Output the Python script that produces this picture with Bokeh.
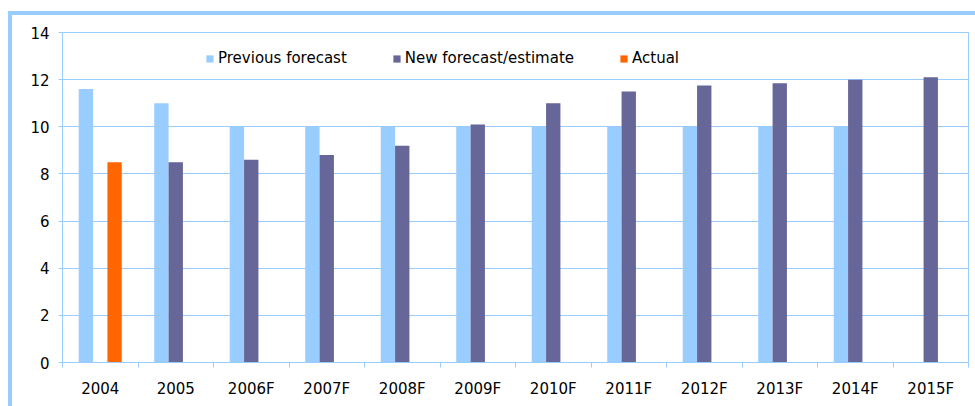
from bokeh.plotting import figure
from bokeh.models import (ColumnDataSource, Range1d, FixedTicker, Legend, LegendItem,
                          InlineStyleSheet)
from bokeh.transform import dodge
from bokeh.embed import file_html
from bokeh.resources import INLINE

categories = ["2004", "2005", "2006F", "2007F", "2008F", "2009F", "2010F",
              "2011F", "2012F", "2013F", "2014F", "2015F"]
previous_forecast = [11.6, 11.0, 10.0, 10.0, 10.0, 10.0, 10.0, 10.0, 10.0, 10.0, 10.0, None]
new_forecast = [None, 8.5, 8.6, 8.8, 9.2, 10.1, 11.0, 11.5, 11.75, 11.85, 12.0, 12.1]
actual = [8.5, None, None, None, None, None, None, None, None, None, None, None]
y_ticks = [0, 2, 4, 6, 8, 10, 12, 14]

NAN = float("nan")
def clean(v):
    return [NAN if x is None else x for x in v]

xpos = [i + 0.5 for i in range(len(categories))]
src = ColumnDataSource(dict(x=xpos, cat=categories, prev=clean(previous_forecast),
                            new=clean(new_forecast), act=clean(actual)))

BLUE = "#99CCFF"
FONT = "DejaVu Sans"
FS = "15px"

p = figure(width=975, height=406, output_backend="svg", toolbar_location=None,
           x_range=Range1d(0, len(categories)), y_range=Range1d(0, 14),
           min_border_left=62, min_border_right=7, min_border_top=32, min_border_bottom=44)
p.background_fill_color = "white"
p.border_fill_color = "white"
p.outline_line_color = BLUE
p.outline_line_width = 1

w = 0.19
r1 = p.vbar(x=dodge("x", -w, range=p.x_range), top="prev", width=w, source=src,
            fill_color=BLUE, line_color=None)
r2 = p.vbar(x=dodge("x", 0, range=p.x_range), top="new", width=w, source=src,
            fill_color="#666699", line_color=None)
r3 = p.vbar(x=dodge("x", w, range=p.x_range), top="act", width=w, source=src,
            fill_color="#FF6600", line_color=None)

# axes
xa = p.xaxis[0]
xa.ticker = FixedTicker(ticks=xpos, minor_ticks=list(range(len(categories) + 1)))
xa.major_label_overrides = {x: c for x, c in zip(xpos, categories)}
xa.major_tick_line_color = None
xa.major_tick_out = 0
xa.minor_tick_out = 5
xa.minor_tick_in = 0
xa.minor_tick_line_color = BLUE
xa.axis_line_color = BLUE
xa.major_label_standoff = 12
xa.major_label_text_font = FONT
xa.major_label_text_font_size = FS
xa.major_label_text_color = "black"

ya = p.yaxis[0]
ya.ticker = FixedTicker(ticks=y_ticks)
ya.major_tick_out = 4
ya.major_tick_in = 0
ya.major_tick_line_color = BLUE
ya.minor_tick_line_color = None
ya.axis_line_color = BLUE
ya.major_label_standoff = 9
ya.major_label_text_font = FONT
ya.major_label_text_font_size = FS
ya.major_label_text_color = "black"

p.xgrid.grid_line_color = None
p.ygrid.ticker = FixedTicker(ticks=y_ticks)
p.ygrid.grid_line_color = BLUE
p.ygrid.grid_line_width = 1

legend = Legend(items=[LegendItem(label="Previous forecast", renderers=[r1]),
                       LegendItem(label="New forecast/estimate", renderers=[r2]),
                       LegendItem(label="Actual", renderers=[r3])],
                orientation="horizontal", location=(143, 295),
                glyph_width=9, glyph_height=9, label_standoff=4, spacing=45,
                padding=0, margin=0, border_line_color=None, background_fill_alpha=0,
                label_text_font=FONT, label_text_font_size=FS, label_text_color="black")
p.add_layout(legend, "center")

# light-blue outer chart-area border (top and left edges visible in the window)
p.stylesheets = [InlineStyleSheet(css=(
    ":host::before { content: ''; position: absolute; left: 8px; top: 11px; "
    "right: 0px; bottom: 0px; border-top: 4px solid #99CCFF; "
    "border-left: 4px solid #99CCFF; z-index: 5; pointer-events: none; }"))]

open("out.html", "w").write(file_html(p, INLINE))
